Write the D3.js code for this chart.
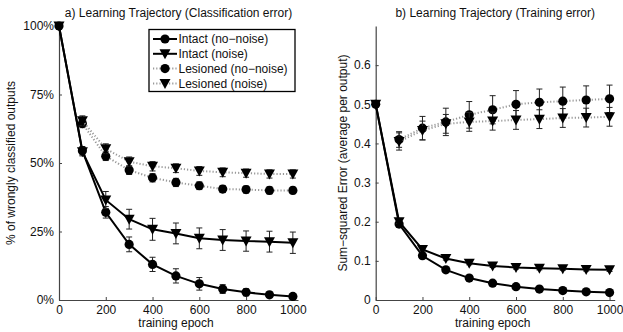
<!DOCTYPE html>
<html><head><meta charset="utf-8">
<script src="https://cdn.jsdelivr.net/npm/d3@7"></script>
<style>
body{margin:0;background:#fff;}
svg{display:block;font-family:"Liberation Sans",Arial,Helvetica,sans-serif;}
</style></head>
<body><svg id="c" width="623" height="332"></svg>
<script>
// ---------- data ----------
const epochs = [0,100,200,300,400,500,600,700,800,900,1000];
const lesEpochs = [100,200,300,400,500,600,700,800,900,1000];

// a) classification error (%)
const clsIntactNoNoise    = [100, 54.5, 32.0, 20.3, 13.0, 8.8, 5.9, 4.0, 2.8, 1.9, 1.3];
const clsIntactNoNoiseErr = [0, 1.5, 2.1, 2.7, 2.6, 2.6, 2.3, 1.6, 1.3, 1.0, 0.8];
const clsIntactNoise      = [100, 54.1, 36.5, 29.5, 25.8, 24.3, 22.5, 21.9, 21.5, 21.3, 20.9];
const clsIntactNoiseErr   = [0, 1.5, 3.1, 3.6, 4.0, 3.8, 3.8, 3.8, 3.7, 3.8, 3.9];
const clsLesNoNoise       = [64.4, 52.5, 47.4, 44.6, 42.9, 41.7, 40.5, 40.3, 40.0, 40.0];
const clsLesNoNoiseErr    = [1.5, 1.6, 1.6, 1.5, 1.5, 1.4, 1.3, 1.3, 1.3, 1.2];
const clsLesNoise         = [65.4, 55.2, 50.5, 48.8, 48.1, 47.1, 46.6, 46.3, 46.0, 46.0];
const clsLesNoiseErr      = [1.8, 1.8, 1.7, 1.7, 1.6, 1.6, 1.6, 1.5, 1.5, 1.5];

// b) training error (SSE)
const sseIntactNoNoise    = [0.5, 0.194, 0.113, 0.077, 0.056, 0.043, 0.034, 0.028, 0.024, 0.021, 0.019];
const sseIntactNoNoiseErr = [0, 0.004, 0.004, 0.004, 0.004, 0.003, 0.003, 0.003, 0.003, 0.003, 0.003];
const sseIntactNoise      = [0.5, 0.2, 0.129, 0.106, 0.094, 0.087, 0.083, 0.081, 0.080, 0.078, 0.077];
const sseIntactNoiseErr   = [0, 0.004, 0.004, 0.004, 0.004, 0.004, 0.004, 0.004, 0.004, 0.004, 0.004];
const sseLesNoNoise       = [0.41, 0.439, 0.455, 0.473, 0.486, 0.5, 0.505, 0.508, 0.511, 0.514];
const sseLesNoNoiseErr    = [0.02, 0.03, 0.035, 0.034, 0.036, 0.035, 0.034, 0.036, 0.036, 0.035];
const sseLesNoise         = [0.405, 0.433, 0.45, 0.455, 0.457, 0.46, 0.462, 0.465, 0.466, 0.468];
const sseLesNoiseErr      = [0.022, 0.024, 0.024, 0.024, 0.023, 0.024, 0.024, 0.024, 0.024, 0.024];

const xTicks = [0,200,400,600,800,1000];
const clsTicks = [0,25,50,75,100];
const clsTickLabels = ["0%","25%","50%","75%","100%"];
const sseTicks = [0,0.1,0.2,0.3,0.4,0.5,0.6];
const sseTickLabels = ["0","0.1","0.2","0.3","0.4","0.5","0.6"];

const legendLabels = ["Intact (no\u2212noise)","Intact (noise)","Lesioned (no\u2212noise)","Lesioned (noise)"];

// ---------- drawing ----------
const svg = d3.select("#c");
const AX = "#444";

function triPath(x,y){ return `M${x-5.5},${y-4.5}L${x+5.5},${y-4.5}L${x},${y+5.5}Z`; }

function drawSeries(g, x, y, xs, vals, errs, solid, marker){
  const pts = xs.map((e,i)=>({e, v:vals[i], s:errs[i]}));
  const eb = g.append("g").attr("stroke","#222").attr("stroke-width",1);
  pts.forEach(p=>{
    if(!p.s) return;
    const cx = x(p.e), y1 = y(p.v+p.s), y2 = y(p.v-p.s);
    eb.append("line").attr("x1",cx).attr("x2",cx).attr("y1",y1).attr("y2",y2);
    eb.append("line").attr("x1",cx-3).attr("x2",cx+3).attr("y1",y1).attr("y2",y1);
    eb.append("line").attr("x1",cx-3).attr("x2",cx+3).attr("y1",y2).attr("y2",y2);
  });
  const line = d3.line().x(d=>x(d.e)).y(d=>y(d.v));
  g.append("path").datum(pts).attr("d",line).attr("fill","none")
    .attr("stroke", solid ? "#000" : "#999")
    .attr("stroke-width", 2)
    .attr("stroke-dasharray", solid ? null : "1.2,2");
  if(marker==="o"){
    g.selectAll(null).data(pts).enter().append("circle")
      .attr("cx",d=>x(d.e)).attr("cy",d=>y(d.v)).attr("r",4.6).attr("fill","#000");
  } else {
    g.selectAll(null).data(pts).enter().append("path")
      .attr("d",d=>triPath(x(d.e),y(d.v))).attr("fill","#000");
  }
}

function panel(opts){
  const x = d3.scaleLinear().domain([0,1022]).range([opts.left, opts.left+239]);
  const y = d3.scaleLinear().domain(opts.ydom).range([300,26]);
  const g = svg.append("g");
  const xa = g.append("g").attr("transform","translate(0,300)")
    .call(d3.axisBottom(x).tickValues(xTicks).tickFormat(d3.format("d")).tickSizeInner(-3).tickSizeOuter(0).tickPadding(5));
  const ya = g.append("g").attr("transform",`translate(${opts.left},0)`)
    .call(d3.axisLeft(y).tickValues(opts.ticks).tickFormat((d,i)=>opts.labels[i]).tickSizeInner(-3).tickSizeOuter(0).tickPadding(5));
  [xa,ya].forEach(a=>{
    a.select(".domain").attr("stroke",AX).attr("stroke-width",1.2);
    a.selectAll(".tick line").attr("stroke",AX);
    a.selectAll("text").attr("fill","#111").style("font-size","12px").style("font-family",'"Liberation Sans",Arial,sans-serif');
  });
  xa.selectAll("text").attr("dy","0.71em");
  g.append("text").attr("x",opts.left+119.5).attr("y",17).attr("text-anchor","middle")
    .attr("font-size",12).attr("fill","#111").text(opts.title);
  g.append("text").attr("x",opts.left+117).attr("y",327).attr("text-anchor","middle")
    .attr("font-size",12).attr("fill","#111").text("training epoch");
  g.append("text").attr("transform",`translate(${opts.ylabX},163) rotate(-90)`).attr("text-anchor","middle")
    .attr("font-size",12).attr("fill","#111").text(opts.ylabel);
  const s = opts.series;
  drawSeries(g,x,y,epochs,s[0],s[1],true,"o");
  drawSeries(g,x,y,epochs,s[2],s[3],true,"v");
  drawSeries(g,x,y,lesEpochs,s[4],s[5],false,"o");
  drawSeries(g,x,y,lesEpochs,s[6],s[7],false,"v");
  return {x,y,g};
}

panel({left:59, ydom:[0,100], ticks:clsTicks, labels:clsTickLabels,
  title:"a) Learning Trajectory (Classification error)", ylabel:"% of wrongly classified outputs", ylabX:15,
  series:[clsIntactNoNoise,clsIntactNoNoiseErr,clsIntactNoise,clsIntactNoiseErr,clsLesNoNoise,clsLesNoNoiseErr,clsLesNoise,clsLesNoiseErr]});
panel({left:375.7, ydom:[0,0.7], ticks:sseTicks, labels:sseTickLabels,
  title:"b) Learning Trajectory (Training error)", ylabel:"Sum\u2212squared Error (average per output)", ylabX:347,
  series:[sseIntactNoNoise,sseIntactNoNoiseErr,sseIntactNoise,sseIntactNoiseErr,sseLesNoNoise,sseLesNoNoiseErr,sseLesNoise,sseLesNoiseErr]});

// legend
const lg = svg.append("g");
lg.append("rect").attr("x",149).attr("y",29.5).attr("width",146).attr("height",62)
  .attr("fill","#fff").attr("stroke","#000").attr("stroke-width",1.3);
legendLabels.forEach((lab,i)=>{
  const yy = 39 + i*14.8;
  const solid = i<2;
  lg.append("line").attr("x1",153).attr("x2",177).attr("y1",yy).attr("y2",yy)
    .attr("stroke", solid ? "#000" : "#999").attr("stroke-width",2)
    .attr("stroke-dasharray", solid ? null : "1.2,2");
  if(i%2===0) lg.append("circle").attr("cx",165).attr("cy",yy).attr("r",4.6).attr("fill","#000");
  else lg.append("path").attr("d",triPath(165,yy)).attr("fill","#000");
  lg.append("text").attr("x",178.5).attr("y",yy+4.3).attr("font-size",12).attr("fill","#111").text(lab);
});
</script></body></html>
